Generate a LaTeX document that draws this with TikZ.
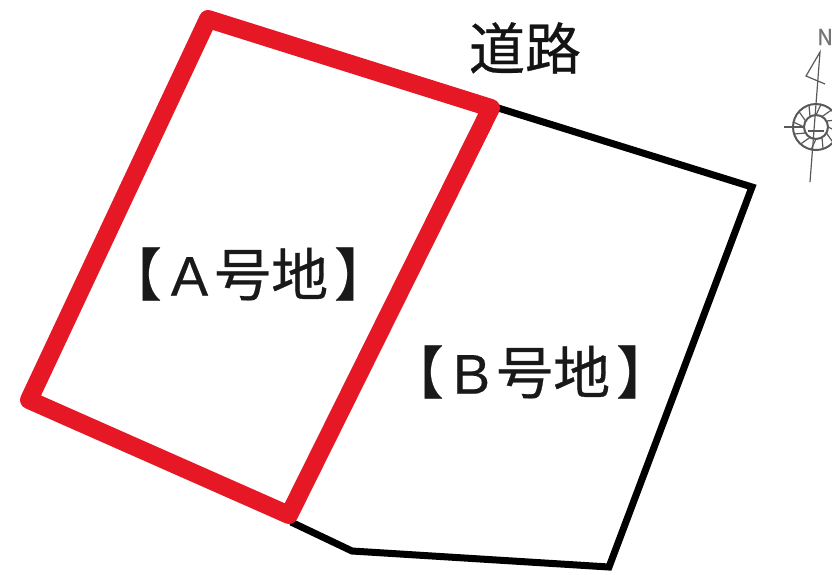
\documentclass[tikz,border=0pt]{standalone}
\usepackage{fontspec}
\setmainfont[FakeBold=0.5]{Noto Sans CJK JP}
\newfontfamily\latinfont[FakeBold=0.3]{Liberation Sans}
\definecolor{lotred}{RGB}{230,24,38}
\newcommand{\lotname}[1]{【\hspace{9pt}{\fontsize{56}{56}\selectfont\latinfont #1}\hspace{6pt}号地\hspace{6pt}】}
\begin{document}
\begin{tikzpicture}[x=1pt,y=-1pt,
  redline/.style={draw=lotred,line width=18pt,line join=round},
  blackline/.style={draw=black,line width=7pt,line join=miter},
  lotlabel/.style={font=\fontsize{57}{57}\selectfont,inner sep=0pt,text=black!90},
  roadlabel/.style={font=\fontsize{56}{56}\selectfont,inner sep=0pt,text=black!92},
  compass/.style={draw=black!65,line width=1.2pt}]
\useasboundingbox (0,0) rectangle (832,574);
\fill[white] (0,0) rectangle (832,574);
\coordinate (p1) at (208,19);
\coordinate (p2) at (491,108);
\coordinate (p3) at (289,515);
\coordinate (p4) at (29,400);
\coordinate (q1) at (495,107);
\coordinate (q2) at (752,187);
\coordinate (q3) at (609,567);
\coordinate (q4) at (352,551);
\coordinate (q5) at (291,522);
\draw[blackline] (q1) -- (q2) -- (q3) -- (q4) -- (q5);
\draw[redline] (p1) -- (p2) -- (p3) -- (p4) -- cycle;
\node[roadlabel] (road) at (525,48) {道路};
\node[lotlabel] (lotA) at (248,274) {\lotname{A}};
\node[lotlabel] (lotB) at (530,372) {\lotname{B}};
% compass
\coordinate (c) at (816,127);
\draw[compass,line width=2pt] (c) circle (23);
\draw[compass,line width=2pt] (c) circle (12);
\foreach \a in {0,30,...,330}
  \draw[compass] (c) ++(\a:12) -- ++(\a+25:11);
\draw[compass] (784,127) -- (804,127);
\draw[compass] (810,182) -- (820,52) -- (813,64) -- (806,76) -- (825,84);
\draw[compass] (808,131) -- (824,131);
\node[font=\fontsize{22}{22}\selectfont,text=black!55,inner sep=0pt,anchor=west] (north) at (817,37) {N};
\end{tikzpicture}
\end{document}
